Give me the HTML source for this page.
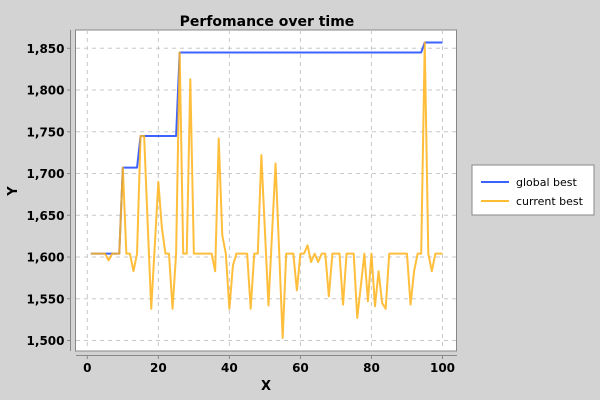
<!DOCTYPE html>
<html><head><meta charset="utf-8"><style>
html,body{margin:0;padding:0;background:#d3d3d3;}
svg{display:block;font-family:"DejaVu Sans","Liberation Sans",sans-serif;}
</style></head><body>
<svg id="chart" width="600" height="400" viewBox="0 0 600 400">
<rect x="0" y="0" width="600" height="400" fill="#d3d3d3"/>
<text x="267" y="26" text-anchor="middle" font-size="14" font-weight="bold">Perfomance over time</text>
<rect x="75.5" y="30" width="381" height="321" fill="#fff" stroke="#888" stroke-width="1"/>
<line x1="70.5" y1="30" x2="70.5" y2="351" stroke="#888"/>
<line x1="76" y1="355.5" x2="457" y2="355.5" stroke="#888"/>
<g id="grid"></g>
<g id="yaxis"></g>
<g id="xaxis"></g>
<g id="series"></g>
<text x="0" y="0" transform="translate(17,191) rotate(-90)" text-anchor="middle" font-size="13" font-weight="bold">Y</text>
<text x="266" y="390" text-anchor="middle" font-size="13" font-weight="bold">X</text>
<g>
<rect x="472" y="165" width="122" height="50" fill="#fff" stroke="#888"/>
<line x1="481" y1="182" x2="509" y2="182" stroke="#3d63ff" stroke-width="2"/>
<text x="516" y="186" font-size="11">global best</text>
<line x1="481" y1="201" x2="509" y2="201" stroke="#ffbc33" stroke-width="2"/>
<text x="516" y="205" font-size="11">current best</text>
</g>
</svg>
<script>
const xTicks = [0, 20, 40, 60, 80, 100];
const yTicks = [1500, 1550, 1600, 1650, 1700, 1750, 1800, 1850];
const yTickLabels = ["1,500", "1,550", "1,600", "1,650", "1,700", "1,750", "1,800", "1,850"];
const globalBest = [1604,1604,1604,1604,1604,1604,1604,1604,1604,1707,
1707,1707,1707,1707,1745,1745,1745,1745,1745,1745,
1745,1745,1745,1745,1745,1845,1845,1845,1845,1845,
1845,1845,1845,1845,1845,1845,1845,1845,1845,1845,
1845,1845,1845,1845,1845,1845,1845,1845,1845,1845,
1845,1845,1845,1845,1845,1845,1845,1845,1845,1845,
1845,1845,1845,1845,1845,1845,1845,1845,1845,1845,
1845,1845,1845,1845,1845,1845,1845,1845,1845,1845,
1845,1845,1845,1845,1845,1845,1845,1845,1845,1845,
1845,1845,1845,1845,1857,1857,1857,1857,1857,1857];
const currentBest = [1604,1604,1604,1604,1604,1596,1604,1604,1604,1707,
1604,1604,1583,1604,1745,1745,1640,1538,1614,1690,
1635,1604,1604,1538,1604,1845,1604,1604,1813,1604,
1604,1604,1604,1604,1604,1583,1742,1626,1604,1538,
1590,1604,1604,1604,1604,1538,1604,1604,1722,1632,
1542,1627,1712,1608,1503,1604,1604,1604,1560,1604,
1604,1614,1594,1604,1594,1604,1604,1553,1604,1604,
1604,1543,1604,1604,1604,1527,1565,1604,1547,1604,
1541,1583,1545,1538,1604,1604,1604,1604,1604,1604,
1543,1583,1604,1604,1857,1604,1583,1604,1604,1604];

const NS = "http://www.w3.org/2000/svg";
const X0 = 87.3, X1 = 442.5, Y0 = 340.5, Y1 = 48.3;
function xScale(v){ return X0 + (v - 0) / 100 * (X1 - X0); }
function yScale(v){ return Y0 - (v - 1500) / 350 * (Y0 - Y1); }
function mk(tag, attrs, parent){
  const e = document.createElementNS(NS, tag);
  for (const k in attrs) e.setAttribute(k, attrs[k]);
  parent.appendChild(e);
  return e;
}
const grid = document.getElementById('grid');
const yaxis = document.getElementById('yaxis');
const xaxis = document.getElementById('xaxis');
const series = document.getElementById('series');

yTicks.forEach((t, i) => {
  const y = yScale(t);
  const g = mk('line', {x1:76, x2:456, y1:y, y2:y, stroke:'#c8c8c8', 'stroke-dasharray':'4,4', 'stroke-width':1}, grid);
  
  
  const tk = mk('line', {x1:67, x2:70.5, y1:y, y2:y, stroke:'#888'}, yaxis);
  
  
  const tx = mk('text', {x:64.5, y:y+4.5, 'text-anchor':'end', 'font-size':12, 'font-weight':'bold'}, yaxis);
  tx.textContent = yTickLabels[i];
  
  
});
xTicks.forEach(t => {
  const x = xScale(t);
  const g = mk('line', {x1:x, x2:x, y1:30, y2:351, stroke:'#c8c8c8', 'stroke-dasharray':'4,4', 'stroke-width':1}, grid);
  
  
  const tk = mk('line', {x1:x, x2:x, y1:355.5, y2:359, stroke:'#888'}, xaxis);
  
  
  const tx = mk('text', {x:x, y:372, 'text-anchor':'middle', 'font-size':12, 'font-weight':'bold'}, xaxis);
  tx.textContent = String(t);
  
  
});

function pts(arr){ return arr.map((v, i) => xScale(i + 1).toFixed(2) + ',' + yScale(v).toFixed(2)).join(' '); }
const gb = mk('polyline', {points:pts(globalBest), fill:'none', stroke:'#3d63ff', 'stroke-width':2, 'stroke-linejoin':'round'}, series);


const cb = mk('polyline', {points:pts(currentBest), fill:'none', stroke:'#ffb31a', 'stroke-opacity':0.85, 'stroke-width':2, 'stroke-linejoin':'round'}, series);


</script>
</body></html>
